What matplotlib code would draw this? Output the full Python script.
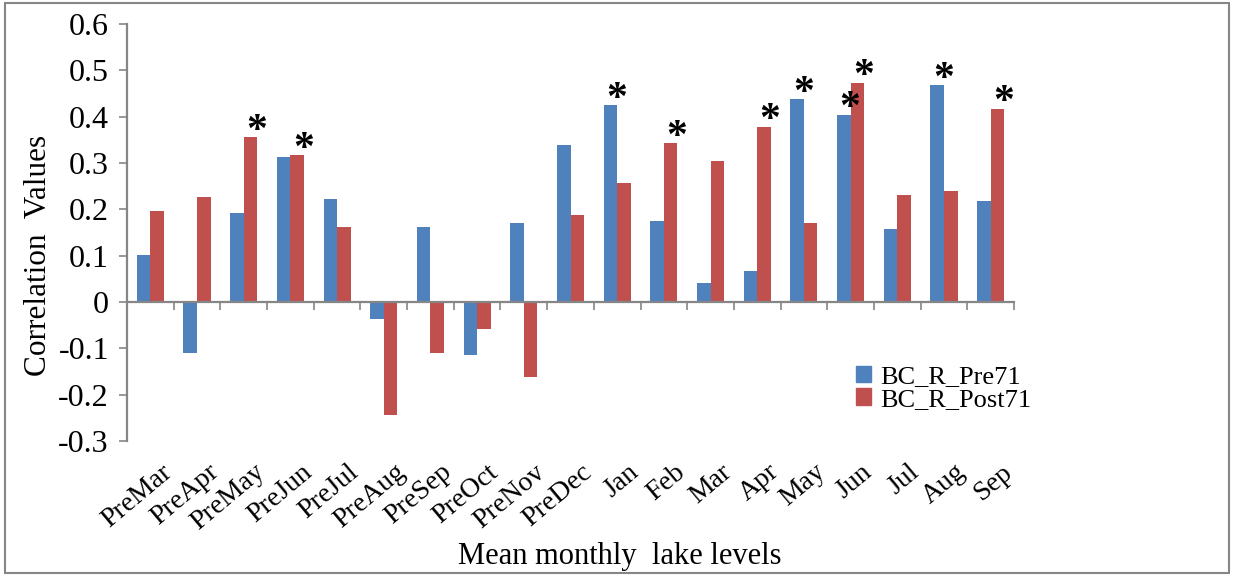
import matplotlib
matplotlib.use("Agg")
import matplotlib.pyplot as plt
import numpy as np
from matplotlib.patches import Rectangle, Patch

plt.rcParams['font.family'] = ['Liberation Serif', 'DejaVu Serif']

# correlation of mean monthly lake levels
months = ["PreMar", "PreApr", "PreMay", "PreJun", "PreJul", "PreAug", "PreSep",
          "PreOct", "PreNov", "PreDec", "Jan", "Feb", "Mar", "Apr", "May",
          "Jun", "Jul", "Aug", "Sep"]
pre71 = [0.101, -0.109, 0.192, 0.313, 0.222, -0.036, 0.162, -0.114, 0.171,
         0.339, 0.425, 0.175, 0.041, 0.067, 0.438, 0.404, 0.158, 0.468, 0.218]
post71 = [0.196, 0.227, 0.356, 0.317, 0.162, -0.243, -0.109, -0.058, -0.161,
          0.188, 0.257, 0.343, 0.304, 0.378, 0.171, 0.473, 0.231, 0.240, 0.417]
# significant correlations, marked with *
sig_pre71 = ["Jan", "May", "Jun", "Aug"]
sig_post71 = ["PreMay", "PreJun", "Feb", "Apr", "Jun", "Sep"]

blue = "#4F81BD"
red = "#C0504D"
grey = "#868686"

fig = plt.figure(figsize=(12.33, 5.75), dpi=100)
ax = fig.add_axes([0.1030, 0.2330, 0.7194, 0.7252])

x = np.arange(len(months))
w = 0.29
ax.bar(x - w / 2, pre71, w, color=blue, label="BC_R_Pre71")
ax.bar(x + w / 2, post71, w, color=red, label="BC_R_Post71")

for i, m in enumerate(months):
    if m in sig_pre71:
        ax.text(x[i] - w / 2 + 0.13, pre71[i] + 0.012, "*", ha="center",
                va="center", fontsize=30, fontweight="bold")
    if m in sig_post71:
        ax.text(x[i] + w / 2 + 0.13, post71[i] + 0.012, "*", ha="center",
                va="center", fontsize=30, fontweight="bold")

ax.set_xlim(-0.5, len(months) - 0.5)
ax.set_ylim(-0.3, 0.6)
ax.set_yticks(np.arange(-0.3, 0.61, 0.1))
ax.set_yticklabels(["-0.3", "-0.2", "-0.1", "0", "0.1", "0.2", "0.3", "0.4",
                    "0.5", "0.6"])
ax.tick_params(axis="y", direction="out", length=6, width=1.2, color=grey,
               labelsize=23, pad=7)

# category axis crosses at zero, labels sit below the plot
ax.spines["bottom"].set_position(("data", 0))
ax.set_xticks(np.arange(-0.5, len(months), 1.0))
ax.set_xticklabels([])
ax.tick_params(axis="x", direction="out", length=5.5, width=1.2, color=grey)
for s in ["top", "right"]:
    ax.spines[s].set_visible(False)
for s in ["left", "bottom"]:
    ax.spines[s].set_color(grey)
    ax.spines[s].set_linewidth(1.6)

for i, m in enumerate(months):
    ax.text(x[i] + 0.22, -0.34, m, rotation=40, ha="right", va="top",
            rotation_mode="anchor", fontsize=20)

fig.text(0.031, 0.555, "Correlation  Values", rotation=90, ha="center",
         va="center", fontsize=22.5)
fig.text(0.503, 0.033, "Mean monthly  lake levels", ha="center", va="center",
         fontsize=22)

handles = [Patch(color=blue), Patch(color=red)]
fig.legend(handles, ["BC_R_Pre71", "BC_R_Post71"], loc="upper left",
           bbox_to_anchor=(845 / 1233, 1 - 355 / 575), frameon=False,
           fontsize=19, handlelength=0.6, handleheight=0.6,
           handletextpad=0.35, labelspacing=0.0, borderaxespad=0)

# outer chart border
fig.patches.append(Rectangle((0.004, 0.004), 0.993, 0.99, transform=fig.transFigure,
                             fill=False, edgecolor=grey, linewidth=1.5))

fig.savefig("out.png", dpi=100)
